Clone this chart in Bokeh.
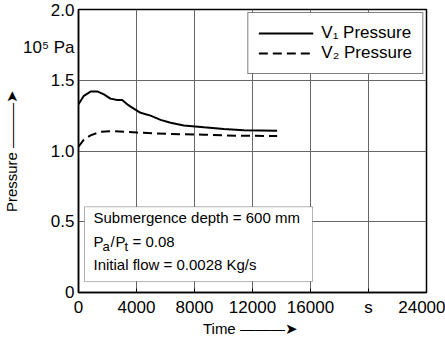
from bokeh.plotting import figure
from bokeh.models import (FixedTicker, Range1d, Legend, LegendItem, Label,
                          BoxAnnotation)
from bokeh.embed import file_html
from bokeh.resources import INLINE

# ---- data ----
t_v1 = [0, 370, 830, 1330, 1750, 2200, 2670, 3010, 3360, 3810, 4280, 4970,
        5660, 6350, 7260, 8650, 10020, 11400, 13700]
p_v1 = [1.33, 1.39, 1.42, 1.42, 1.40, 1.37, 1.36, 1.36, 1.33, 1.30, 1.27,
        1.25, 1.22, 1.20, 1.18, 1.167, 1.155, 1.146, 1.143]
t_v2 = [0, 370, 830, 1520, 2430, 4050, 6350, 8650, 10950, 13700]
p_v2 = [1.03, 1.08, 1.11, 1.136, 1.14, 1.13, 1.12, 1.115, 1.108, 1.106]

x_ticks = [0, 4000, 8000, 12000, 16000, 20000, 24000]
x_tick_labels = ["0", "4000", "8000", "12000", "16000", "s", "24000"]
y_grid_ticks = [0, 0.5, 1.0, 1.5, 2.0]
y_ticks = [0, 0.5, 1.0, 1.5, 1.73, 2.0]
y_tick_labels = ["0", "0.5", "1.0", "1.5", "10\u2075 Pa", "2.0"]

FONT = "'Liberation Sans', Arial, sans-serif"
FS = "17px"
BOX_FS = "15px"
ARROW = "\u2014\u2014\u2014\u27A4"

p = figure(width=445, height=339, output_backend="svg", toolbar_location=None,
           x_range=Range1d(0, 24000), y_range=Range1d(0, 2.0),
           min_border_left=78, min_border_right=19, min_border_top=9,
           min_border_bottom=46)
p.background_fill_color = "white"
p.border_fill_color = "white"
p.outline_line_color = "black"
p.outline_line_width = 1.5

for ax in (p.xaxis[0], p.yaxis[0]):
    ax.axis_line_color = "black"
    ax.axis_line_width = 1.5
    ax.major_tick_out = 0
    ax.minor_tick_line_color = None
    ax.major_label_text_font = FONT
    ax.major_label_text_font_size = FS
    ax.major_label_text_color = "black"
    ax.axis_label_text_font = FONT
    ax.axis_label_text_font_size = "15px"
    ax.axis_label_text_font_style = "normal"
    ax.axis_label_text_color = "black"
    ax.axis_label_standoff = 0

p.xaxis.major_tick_in = 4
p.yaxis.major_tick_in = 0
p.xaxis.ticker = FixedTicker(ticks=x_ticks)
p.xaxis.major_label_overrides = {t: l for t, l in zip(x_ticks, x_tick_labels)}
p.xaxis.major_label_standoff = 5
p.xaxis.axis_label = "Time  " + ARROW
p.yaxis.ticker = FixedTicker(ticks=y_ticks)
p.yaxis.major_label_overrides = {t: l for t, l in zip(y_ticks, y_tick_labels)}
p.yaxis.major_label_standoff = 4
p.yaxis.axis_label = "\u00a0" + "Pressure  " + ARROW

p.xgrid.grid_line_color = "#666666"
p.ygrid.grid_line_color = "#666666"
p.ygrid.ticker = FixedTicker(ticks=y_grid_ticks)
p.xgrid.grid_line_width = 1
p.ygrid.grid_line_width = 1

r1 = p.line(t_v1, p_v1, line_color="black", line_width=2)
r2 = p.line(t_v2, p_v2, line_color="black", line_width=2, line_dash="9 5")

legend = Legend(items=[LegendItem(label="V\u2081 Pressure", renderers=[r1]),
                       LegendItem(label="V\u2082 Pressure", renderers=[r2])],
                location="top_right", margin=3)
legend.label_text_font = FONT
legend.label_text_font_size = FS
legend.label_text_color = "black"
legend.glyph_width = 55
legend.glyph_height = 20
legend.label_height = 20
legend.label_standoff = 8
legend.spacing = 0
legend.padding = 10
legend.border_line_color = "black"
legend.border_line_width = 1
legend.background_fill_alpha = 1
p.add_layout(legend)

# annotation box
box = BoxAnnotation(left=414, right=16140, bottom=0.077, top=0.606,
                    fill_color="white", fill_alpha=1,
                    line_color="black", line_width=1, level="annotation")
p.add_layout(box)

def lab(x, y, text, xo=0, yo=0, size=BOX_FS):
    p.add_layout(Label(x=x, y=y, text=text, x_offset=xo, y_offset=yo,
                       text_font=FONT, text_font_size=size, text_color="black",
                       text_align="left", text_baseline="middle"))

lab(414, 0.528, "Submergence depth = 600 mm", xo=9)
lab(414, 0.359, "P", xo=9)
lab(414, 0.359, "a", xo=18, yo=-5, size="13px")
lab(414, 0.359, "/", xo=26)
lab(414, 0.359, "P", xo=31)
lab(414, 0.359, "t", xo=40, yo=-5, size="13px")
lab(414, 0.359, "= 0.08", xo=48)
lab(414, 0.197, "Initial flow = 0.0028 Kg/s", xo=9)

open("out.html", "w").write(file_html(p, INLINE))
